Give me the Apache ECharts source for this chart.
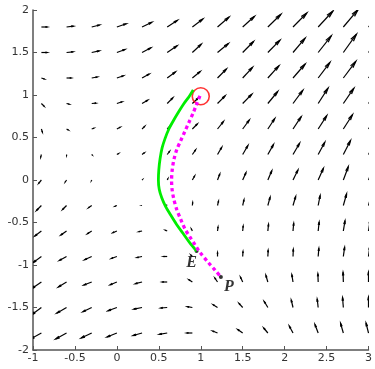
<!DOCTYPE html>
<html>
<head>
<meta charset="utf-8">
<script src="https://cdn.jsdelivr.net/npm/echarts@6/dist/echarts.min.js"></script>
<style>
  html, body { margin: 0; padding: 0; background: #fff; }
  #chart { width: 375px; height: 369px; }
</style>
</head>
<body>
<div id="chart"></div>
<script>
// quiver grid (arrow tails)
var gridX = [-0.9, -0.6, -0.3, 0, 0.3, 0.6, 0.9, 1.2, 1.5, 1.8, 2.1, 2.4, 2.7, 3.0]
var gridY = [1.8, 1.5, 1.2, 0.9, 0.6, 0.3, 0, -0.3, -0.6, -0.9, -1.2, -1.5, -1.8]

// vector components, one row per gridY entry (quiver units)
var U = [
  [6, 7, 8, 9.5, 10, 10.5, 10.7, 11.7, 12, 13.3, 14, 15, 15, 15.5],
  [6, 6.7, 7.7, 8.3, 9, 10, 9, 11, 11, 12.3, 12.3, 13.3, 13.3, 13.5],
  [3, 4.7, 5.7, 6.7, 7.3, 8.3, 8, 9, 10, 11.3, 12.3, 12, 12.7, 13],
  [2.7, 2.7, 4.3, 5.3, 5.7, 5.7, 6, 7.7, 9.3, 10, 10, 10, 10.7, 11],
  [1, 1.7, 2, 3.3, 2.7, 4, 5, 6, 6.7, 7, 8.3, 8.7, 9.3, 9.5],
  [-0.7, 0, 0.3, 1.7, 2.3, 2.3, 3.3, 4.3, 5.3, 5.7, 6.7, 6.7, 7.3, 7.5],
  [-2.7, -1.3, -0.3, 0, 0.3, 0.7, 2.3, 2.3, 3.3, 4, 5, 5.3, 5, 5.5],
  [-5, -4, -3.3, -1.7, -0.3, -0.5, 0.3, 1, 1.3, 2.3, 2.7, 2, 3.3, 3.3],
  [-6.7, -5.7, -4.3, -4, -3.3, -1.7, -1, 0.5, 0.5, 0.7, 0.7, 1, 1.7, 1.7],
  [-8.3, -7.3, -7.3, -5.7, -5, -4, -1.5, 0, 0.3, 0.3, 0.3, 0.7, 1.3, 1.3],
  [-10, -8.3, -8, -6.7, -6.7, -5, -3.5, -2.7, -2.3, -2, -1.2, -0.3, -0.3, 0],
  [-10, -10, -9, -9, -8.3, -6.5, -5, -4.5, -3.8, -3.8, -1.8, -1, -0.8, 0],
  [-11, -11, -10.7, -10, -9, -8, -5.7, -5, -5, -4.2, -3.8, -3.3, -2.8, -2.5]
]
var V = [
  [0, 0.8, 2, 3.2, 4.8, 6.8, 8, 10, 10.7, 12.7, 14, 16, 17.5, 18.5],
  [0, 0.7, 1.7, 3, 4.7, 6.7, 8.3, 9, 11, 12.3, 14.3, 16.7, 18.3, 19],
  [-1, 0, 1, 2.3, 4, 6, 6.5, 9, 10.7, 12.3, 14, 15.7, 16.7, 17.5],
  [-2.7, -0.7, 0.3, 1.7, 3.3, 5.7, 5.5, 7.7, 9.3, 12, 13.3, 15.3, 15.3, 16],
  [-3, -1, 0.7, 1.7, 2.7, 4.3, 5, 7.5, 9, 10.5, 12.3, 13.3, 14.3, 15],
  [-2.7, -1, -0.3, 1, 1.7, 3, 4.7, 7.3, 9, 10, 11.3, 12.3, 14, 14.5],
  [-3.3, -2, -0.7, 0, 0.3, 1.3, 4, 6, 7.3, 9.3, 10, 11.7, 13.3, 14],
  [-5, -4, -2.3, -0.7, 0, 0.3, 3, 4.3, 5.7, 8.3, 9, 10, 11.7, 12.5],
  [-5, -4, -2.7, -1.7, -0.7, 0.7, 2, 4, 5, 6.7, 7.7, 9, 10.3, 11],
  [-6, -4, -3.3, -2, -1, 0, 1.5, 4, 5, 6.3, 7.3, 8.3, 9.3, 10],
  [-6.7, -5, -3, -2.7, -1.7, 0, 2.3, 4, 5, 6.7, 7.3, 8.3, 9.7, 10],
  [-7.3, -5.7, -4.3, -3.3, -1.7, -0.5, 0.8, 2.8, 4.2, 6.2, 7.5, 8.5, 10, 10.5],
  [-6, -6, -5, -4, -2.5, -1.3, 0, 2, 3.5, 5, 7, 8.6, 9.7, 10]
]
var quiverScale = 1 / 85

// trajectories
var greenPath = [
  [0.91, 1.06], [0.86, 0.98], [0.80, 0.90], [0.735, 0.80], [0.675, 0.70],
  [0.62, 0.60], [0.575, 0.49], [0.54, 0.38], [0.515, 0.25], [0.50, 0.12],
  [0.495, 0.0], [0.505, -0.11], [0.535, -0.21], [0.58, -0.31], [0.64, -0.41],
  [0.71, -0.52], [0.79, -0.63], [0.87, -0.74], [0.95, -0.835]
]
var magentaPath = [
  [0.99, 0.99], [0.95, 0.89], [0.91, 0.79], [0.86, 0.68], [0.81, 0.57],
  [0.76, 0.46], [0.715, 0.36], [0.68, 0.24], [0.66, 0.12], [0.652, 0.0],
  [0.658, -0.11], [0.68, -0.23], [0.715, -0.35], [0.76, -0.46], [0.814, -0.58],
  [0.87, -0.67], [0.93, -0.76], [0.99, -0.85], [1.09, -0.97], [1.17, -1.06],
  [1.24, -1.14]
]
var startPoint = [1.0, 0.985]
var labelPoints = [
  { name: 'E', value: [0.95, -0.835] },
  { name: 'P', value: [1.24, -1.14] }
]

var quiverData = []
for (var r = 0; r < gridY.length; r++) {
  for (var c = 0; c < gridX.length; c++) {
    quiverData.push([gridX[c], gridY[r], U[r][c], V[r][c]])
  }
}

var axisColor = '#555'
var labelFont = { color: '#333', fontSize: 11, fontFamily: 'DejaVu Sans' }

var chart = echarts.init(document.getElementById('chart'))
chart.setOption({
  animation: false,
  grid: { left: 33, right: 3, top: 10, bottom: 19 },
  xAxis: {
    type: 'value', min: -1, max: 3, interval: 0.5,
    axisLine: { onZero: false, lineStyle: { color: axisColor, width: 1.5 } },
    axisTick: { inside: true, length: 4, lineStyle: { color: axisColor } },
    splitLine: { show: false },
    axisLabel: Object.assign({ margin: 3 }, labelFont)
  },
  yAxis: {
    type: 'value', min: -2, max: 2, interval: 0.5,
    axisLine: { show: true, onZero: false, lineStyle: { color: axisColor, width: 1.5 } },
    axisTick: { show: true, inside: true, length: 4, lineStyle: { color: axisColor } },
    splitLine: { show: false },
    axisLabel: Object.assign({ margin: 4 }, labelFont)
  },
  series: [{
    type: 'custom',
    clip: true,
    encode: { x: 0, y: 1 },
    data: quiverData,
    renderItem: function (params, api) {
      var x = api.value(0)
      var y = api.value(1)
      var u = api.value(2) * quiverScale
      var v = api.value(3) * quiverScale
      var p0 = api.coord([x, y])
      var p1 = api.coord([x + u, y + v])
      var dx = p1[0] - p0[0]
      var dy = p1[1] - p0[1]
      var a = 0.33
      var b = 0.22
      var h1 = [p1[0] - a * (dx + b * dy), p1[1] - a * (dy - b * dx)]
      var h2 = [p1[0] - a * (dx - b * dy), p1[1] - a * (dy + b * dx)]
      var style = { stroke: '#000', lineWidth: 1.2, fill: null }
      return {
        type: 'group',
        children: [
          { type: 'polyline', shape: { points: [p0, p1] }, style: style },
          { type: 'polyline', shape: { points: [h1, p1, h2] }, style: style }
        ]
      }
    }
  }, {
    type: 'line',
    data: greenPath,
    smooth: 0.3,
    showSymbol: false,
    lineStyle: { color: '#00ee00', width: 2.8 }
  }, {
    type: 'line',
    data: magentaPath,
    smooth: 0.3,
    showSymbol: false,
    lineStyle: { color: '#ff00ff', width: 3.3, type: [3.5, 3] }
  }, {
    type: 'scatter',
    data: [startPoint],
    symbol: 'circle',
    symbolSize: 17,
    itemStyle: { color: 'rgba(0,0,0,0)', borderColor: '#ff0000', borderWidth: 1.6 }
  }, {
    type: 'scatter',
    data: labelPoints,
    symbolSize: 4,
    itemStyle: { color: '#000' },
    label: {
      show: true,
      formatter: '{b}',
      position: 'inside',
      color: '#000',
      fontSize: 16,
      fontWeight: 'bold',
      fontStyle: 'italic',
      fontFamily: 'Liberation Serif'
    },
    labelLayout: function (params) {
      var off = params.dataIndex === 0 ? [-5, 12] : [8, 10]
      return { dx: off[0], dy: off[1] }
    }
  }]
})
</script>
</body>
</html>
